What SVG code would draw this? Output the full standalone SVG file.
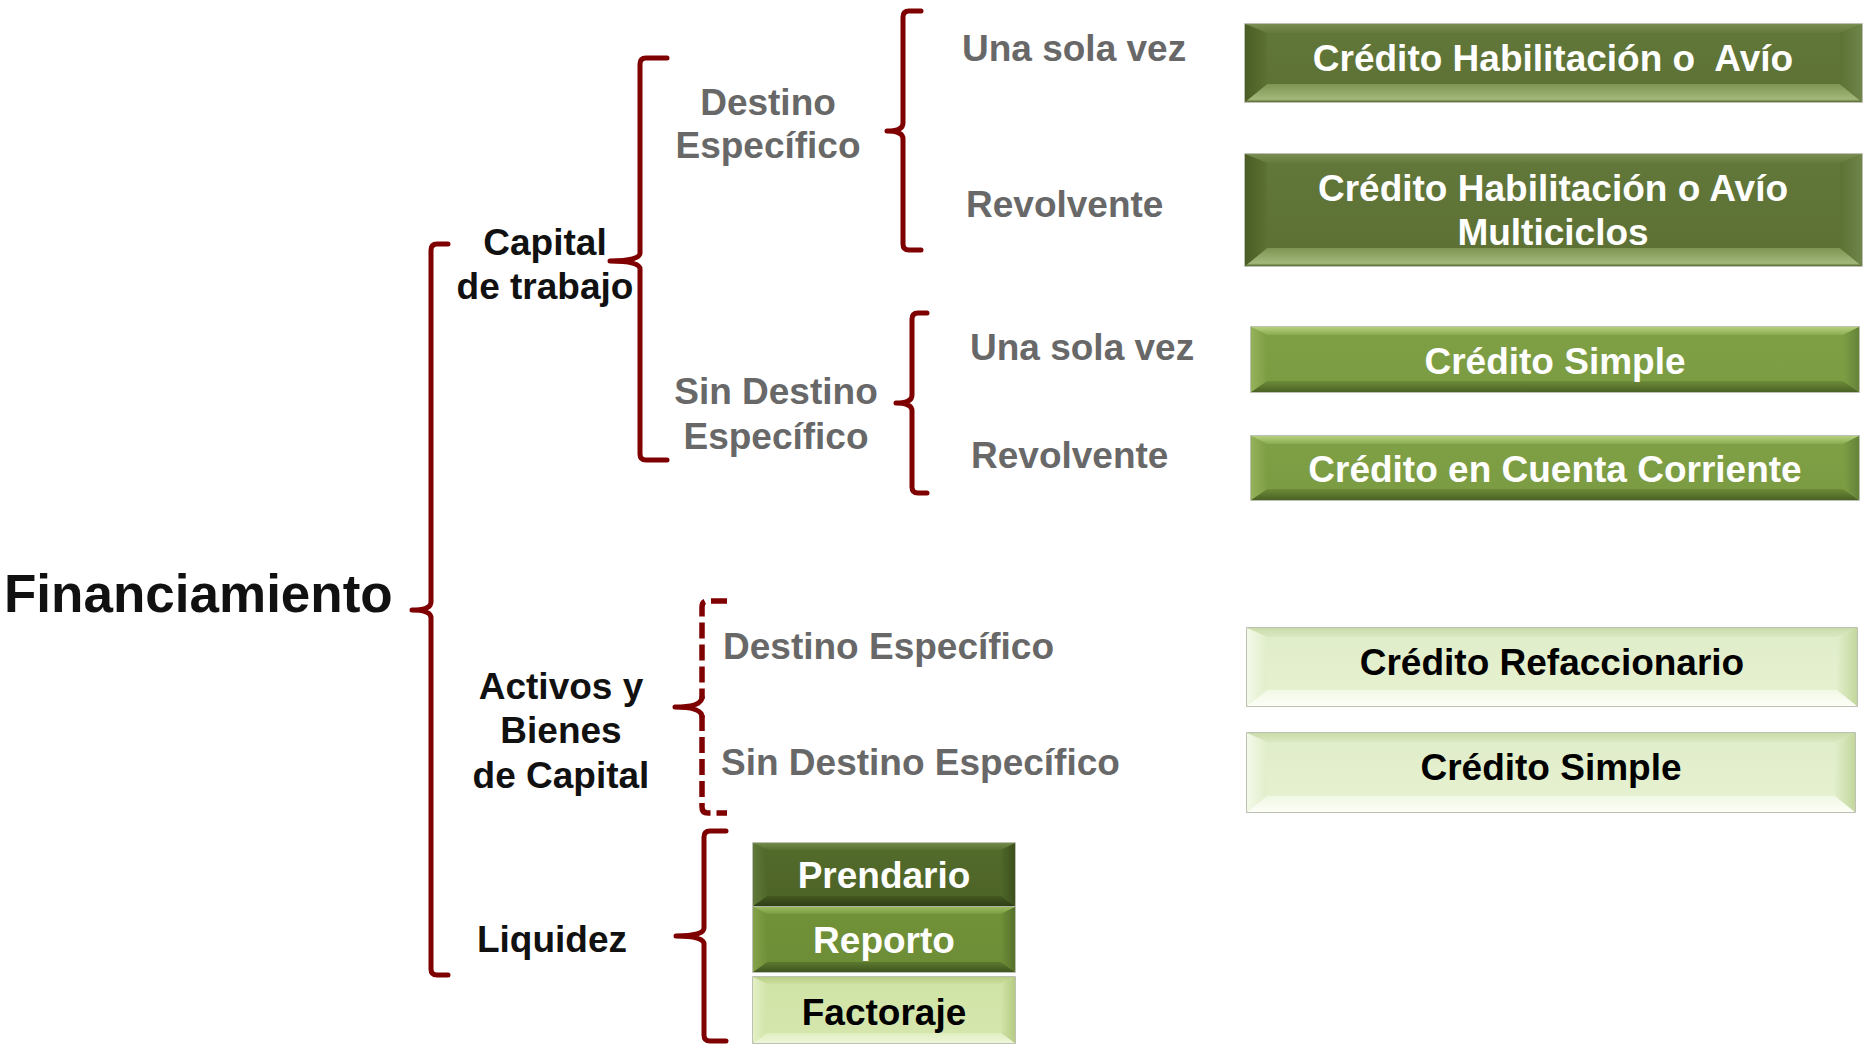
<svg xmlns="http://www.w3.org/2000/svg" width="1864" height="1045" viewBox="0 0 1864 1045">
<defs>
<linearGradient id="dkFace" x1="0" y1="0" x2="0" y2="1"><stop offset="0" stop-color="#62773a"/><stop offset="1" stop-color="#5b7032"/></linearGradient>
<linearGradient id="dkTop" x1="0" y1="0" x2="0" y2="1"><stop offset="0" stop-color="#7a8e52"/><stop offset="1" stop-color="#64793b"/></linearGradient>
<linearGradient id="dkBot" x1="0" y1="0" x2="0" y2="1"><stop offset="0" stop-color="#7d9452"/><stop offset="0.85" stop-color="#a3b87b"/><stop offset="1" stop-color="#56682e"/></linearGradient>
<linearGradient id="dkLeft" x1="0" y1="0" x2="1" y2="0"><stop offset="0" stop-color="#4b5d25"/><stop offset="1" stop-color="#5c7133"/></linearGradient>
<linearGradient id="dkRight" x1="0" y1="0" x2="1" y2="0"><stop offset="0" stop-color="#5c7133"/><stop offset="1" stop-color="#70854a"/></linearGradient>

<linearGradient id="mdFace" x1="0" y1="0" x2="0" y2="1"><stop offset="0" stop-color="#80a046"/><stop offset="1" stop-color="#7b9b42"/></linearGradient>
<linearGradient id="mdTop" x1="0" y1="0" x2="0" y2="1"><stop offset="0" stop-color="#b5d07e"/><stop offset="1" stop-color="#8bab50"/></linearGradient>
<linearGradient id="mdBot" x1="0" y1="0" x2="0" y2="1"><stop offset="0" stop-color="#6d8c38"/><stop offset="1" stop-color="#4a6124"/></linearGradient>
<linearGradient id="mdLeft" x1="0" y1="0" x2="1" y2="0"><stop offset="0" stop-color="#94b25a"/><stop offset="1" stop-color="#7e9e44"/></linearGradient>
<linearGradient id="mdRight" x1="0" y1="0" x2="1" y2="0"><stop offset="0" stop-color="#7e9e44"/><stop offset="1" stop-color="#65833a"/></linearGradient>

<linearGradient id="ltFace" x1="0" y1="0" x2="0" y2="1"><stop offset="0" stop-color="#e0edc9"/><stop offset="1" stop-color="#e6f1d1"/></linearGradient>
<linearGradient id="ltTop" x1="0" y1="0" x2="0" y2="1"><stop offset="0" stop-color="#cadcaa"/><stop offset="1" stop-color="#dae8c2"/></linearGradient>
<linearGradient id="ltBot" x1="0" y1="0" x2="0" y2="1"><stop offset="0" stop-color="#f1f8e4"/><stop offset="1" stop-color="#fcfef7"/></linearGradient>
<linearGradient id="ltLeft" x1="0" y1="0" x2="1" y2="0"><stop offset="0" stop-color="#f3f9e8"/><stop offset="1" stop-color="#e1eecb"/></linearGradient>
<linearGradient id="ltRight" x1="0" y1="0" x2="1" y2="0"><stop offset="0" stop-color="#e1eecb"/><stop offset="1" stop-color="#c3d79d"/></linearGradient>

<linearGradient id="prFace" x1="0" y1="0" x2="0" y2="1"><stop offset="0" stop-color="#536b2b"/><stop offset="1" stop-color="#4c6326"/></linearGradient>
<linearGradient id="prTop" x1="0" y1="0" x2="0" y2="1"><stop offset="0" stop-color="#72894a"/><stop offset="1" stop-color="#566e2e"/></linearGradient>
<linearGradient id="prBot" x1="0" y1="0" x2="0" y2="1"><stop offset="0" stop-color="#435820"/><stop offset="1" stop-color="#2f3f16"/></linearGradient>
<linearGradient id="prLeft" x1="0" y1="0" x2="1" y2="0"><stop offset="0" stop-color="#61793a"/><stop offset="1" stop-color="#4f6728"/></linearGradient>
<linearGradient id="prRight" x1="0" y1="0" x2="1" y2="0"><stop offset="0" stop-color="#4f6728"/><stop offset="1" stop-color="#3c501d"/></linearGradient>

<linearGradient id="rpFace" x1="0" y1="0" x2="0" y2="1"><stop offset="0" stop-color="#729239"/><stop offset="1" stop-color="#6c8c36"/></linearGradient>
<linearGradient id="rpTop" x1="0" y1="0" x2="0" y2="1"><stop offset="0" stop-color="#9abb5e"/><stop offset="1" stop-color="#7b9b41"/></linearGradient>
<linearGradient id="rpBot" x1="0" y1="0" x2="0" y2="1"><stop offset="0" stop-color="#5b792e"/><stop offset="1" stop-color="#3f5520"/></linearGradient>
<linearGradient id="rpLeft" x1="0" y1="0" x2="1" y2="0"><stop offset="0" stop-color="#84a34a"/><stop offset="1" stop-color="#6f8f38"/></linearGradient>
<linearGradient id="rpRight" x1="0" y1="0" x2="1" y2="0"><stop offset="0" stop-color="#6f8f38"/><stop offset="1" stop-color="#56722b"/></linearGradient>

<linearGradient id="fcFace" x1="0" y1="0" x2="0" y2="1"><stop offset="0" stop-color="#d0e3a5"/><stop offset="1" stop-color="#d6e7ae"/></linearGradient>
<linearGradient id="fcTop" x1="0" y1="0" x2="0" y2="1"><stop offset="0" stop-color="#b9cf85"/><stop offset="1" stop-color="#cde0a0"/></linearGradient>
<linearGradient id="fcBot" x1="0" y1="0" x2="0" y2="1"><stop offset="0" stop-color="#e0eec0"/><stop offset="1" stop-color="#eef6d8"/></linearGradient>
<linearGradient id="fcLeft" x1="0" y1="0" x2="1" y2="0"><stop offset="0" stop-color="#e3f0c6"/><stop offset="1" stop-color="#d2e4a8"/></linearGradient>
<linearGradient id="fcRight" x1="0" y1="0" x2="1" y2="0"><stop offset="0" stop-color="#d2e4a8"/><stop offset="1" stop-color="#b5cb83"/></linearGradient>
</defs>
<style>
text{font-family:"Liberation Sans",Arial,Helvetica,sans-serif;font-weight:bold;}
.root{font-size:53px;fill:#111111;}
.cat{font-size:37px;fill:#111111;text-anchor:middle;}
.sub{font-size:37px;fill:#686868;}
.subc{font-size:37px;fill:#686868;text-anchor:middle;}
.bt{font-size:37px;text-anchor:middle;}
.w{fill:#ffffff;}
.k{fill:#000000;}
.brace{fill:none;stroke:#7f0000;stroke-width:5;stroke-linecap:round;stroke-linejoin:round;}
.dash{stroke-dasharray:16 6;stroke-linecap:butt;stroke-width:5.5;}
.frame{stroke:#a8ad9c;stroke-width:1.5;}
</style>

<g id="connectors">
<path class="brace" d="M448,244 L437,244 Q431,244 431,250 L431,602 Q431,610 412,610 Q431,610 431,618 L431,969 Q431,975 437,975 L448,975"/>
<path class="brace" d="M667,58 L646,58 Q640,58 640,64 L640,253 Q640,261 610,261 Q640,261 640,269 L640,454 Q640,460 646,460 L667,460"/>
<path class="brace" d="M921,11 L909,11 Q903,11 903,17 L903,123 Q903,131 887,131 Q903,131 903,139 L903,244 Q903,250 909,250 L921,250"/>
<path class="brace" d="M927,313 L918,313 Q912,313 912,319 L912,395 Q912,403 896,403 Q912,403 912,411 L912,487 Q912,493 918,493 L927,493"/>
<path class="brace dash" d="M727,601 L708,601 Q702,601 702,607 L702,699"/>
<path class="brace dash" d="M702,715 L702,807 Q702,813 708,813 L727,813"/>
<path class="brace" d="M702,697 Q702,707 675,707 Q702,707 702,717"/>
<path class="brace" d="M726,831 L710,831 Q704,831 704,837 L704,928 Q704,936 676,936 Q704,936 704,944 L704,1035 Q704,1041 710,1041 L726,1041"/>
</g>

<g id="n-financiamiento"><text class="root" x="4" y="612">Financiamiento</text></g>
<g id="n-capital-trabajo"><text class="cat" x="545" y="255">Capital</text><text class="cat" x="545" y="299">de trabajo</text></g>
<g id="n-activos"><text class="cat" x="561" y="699">Activos y</text><text class="cat" x="561" y="743">Bienes</text><text class="cat" x="561" y="788">de Capital</text></g>
<g id="n-liquidez"><text class="cat" x="552" y="952">Liquidez</text></g>

<g id="n-destino-1"><text class="subc" x="768" y="115">Destino</text><text class="subc" x="768" y="158">Específico</text></g>
<g id="n-sindestino-1"><text class="subc" x="776" y="404">Sin Destino</text><text class="subc" x="776" y="449">Específico</text></g>
<g id="n-unasola-1"><text class="sub" x="962" y="61">Una sola vez</text></g>
<g id="n-revolvente-1"><text class="sub" x="966" y="217">Revolvente</text></g>
<g id="n-unasola-2"><text class="sub" x="970" y="360">Una sola vez</text></g>
<g id="n-revolvente-2"><text class="sub" x="971" y="468">Revolvente</text></g>
<g id="n-destino-2"><text class="sub" x="723" y="659">Destino Específico</text></g>
<g id="n-sindestino-2"><text class="sub" x="721" y="775">Sin Destino Específico</text></g>

<g id="n-avio">
<rect class="frame" x="1245" y="24" width="617" height="78" fill="url(#dkFace)"/>
<polygon points="1245,24 1862,24 1840,33 1267,33" fill="url(#dkTop)"/>
<polygon points="1245,102 1862,102 1840,84 1267,84" fill="url(#dkBot)"/>
<polygon points="1245,24 1267,33 1267,84 1245,102" fill="url(#dkLeft)"/>
<polygon points="1862,24 1840,33 1840,84 1862,102" fill="url(#dkRight)"/>
<text class="bt w" x="1553" y="71">Crédito Habilitación o&#160; Avío</text>
</g>
<g id="n-avio-multi">
<rect class="frame" x="1245" y="154" width="617" height="112" fill="url(#dkFace)"/>
<polygon points="1245,154 1862,154 1840,163 1267,163" fill="url(#dkTop)"/>
<polygon points="1245,266 1862,266 1840,248 1267,248" fill="url(#dkBot)"/>
<polygon points="1245,154 1267,163 1267,248 1245,266" fill="url(#dkLeft)"/>
<polygon points="1862,154 1840,163 1840,248 1862,266" fill="url(#dkRight)"/>
<text class="bt w" x="1553" y="201">Crédito Habilitación o Avío</text>
<text class="bt w" x="1553" y="245">Multiciclos</text>
</g>
<g id="n-simple-1">
<rect class="frame" x="1251" y="327" width="608" height="65" fill="url(#mdFace)"/>
<polygon points="1251,327 1859,327 1843,335 1267,335" fill="url(#mdTop)"/>
<polygon points="1251,392 1859,392 1843,381 1267,381" fill="url(#mdBot)"/>
<polygon points="1251,327 1267,335 1267,381 1251,392" fill="url(#mdLeft)"/>
<polygon points="1859,327 1843,335 1843,381 1859,392" fill="url(#mdRight)"/>
<text class="bt w" x="1555" y="374">Crédito Simple</text>
</g>
<g id="n-cuenta-corriente">
<rect class="frame" x="1251" y="436" width="608" height="64" fill="url(#mdFace)"/>
<polygon points="1251,436 1859,436 1843,444 1267,444" fill="url(#mdTop)"/>
<polygon points="1251,500 1859,500 1843,489 1267,489" fill="url(#mdBot)"/>
<polygon points="1251,436 1267,444 1267,489 1251,500" fill="url(#mdLeft)"/>
<polygon points="1859,436 1843,444 1843,489 1859,500" fill="url(#mdRight)"/>
<text class="bt w" x="1555" y="482">Crédito en Cuenta Corriente</text>
</g>
<g id="n-refaccionario">
<rect class="frame" x="1247" y="628" width="610" height="78" fill="url(#ltFace)"/>
<polygon points="1247,628 1857,628 1837,637 1267,637" fill="url(#ltTop)"/>
<polygon points="1247,706 1857,706 1837,690 1267,690" fill="url(#ltBot)"/>
<polygon points="1247,628 1267,637 1267,690 1247,706" fill="url(#ltLeft)"/>
<polygon points="1857,628 1837,637 1837,690 1857,706" fill="url(#ltRight)"/>
<text class="bt k" x="1552" y="675">Crédito Refaccionario</text>
</g>
<g id="n-simple-2">
<rect class="frame" x="1247" y="733" width="608" height="79" fill="url(#ltFace)"/>
<polygon points="1247,733 1855,733 1835,742 1267,742" fill="url(#ltTop)"/>
<polygon points="1247,812 1855,812 1835,796 1267,796" fill="url(#ltBot)"/>
<polygon points="1247,733 1267,742 1267,796 1247,812" fill="url(#ltLeft)"/>
<polygon points="1855,733 1835,742 1835,796 1855,812" fill="url(#ltRight)"/>
<text class="bt k" x="1551" y="780">Crédito Simple</text>
</g>
<g id="n-prendario">
<rect class="frame" x="753" y="843" width="262" height="63" fill="url(#prFace)"/>
<polygon points="753,843 1015,843 1001,850 767,850" fill="url(#prTop)"/>
<polygon points="753,906 1015,906 1001,896 767,896" fill="url(#prBot)"/>
<polygon points="753,843 767,850 767,896 753,906" fill="url(#prLeft)"/>
<polygon points="1015,843 1001,850 1001,896 1015,906" fill="url(#prRight)"/>
<text class="bt w" x="884" y="888">Prendario</text>
</g>
<g id="n-reporto">
<rect class="frame" x="753" y="907" width="262" height="65" fill="url(#rpFace)"/>
<polygon points="753,907 1015,907 1001,914 767,914" fill="url(#rpTop)"/>
<polygon points="753,972 1015,972 1001,962 767,962" fill="url(#rpBot)"/>
<polygon points="753,907 767,914 767,962 753,972" fill="url(#rpLeft)"/>
<polygon points="1015,907 1001,914 1001,962 1015,972" fill="url(#rpRight)"/>
<text class="bt w" x="884" y="953">Reporto</text>
</g>
<g id="n-factoraje">
<rect class="frame" x="753" y="977" width="262" height="66" fill="url(#fcFace)"/>
<polygon points="753,977 1015,977 1001,984 767,984" fill="url(#fcTop)"/>
<polygon points="753,1043 1015,1043 1001,1033 767,1033" fill="url(#fcBot)"/>
<polygon points="753,977 767,984 767,1033 753,1043" fill="url(#fcLeft)"/>
<polygon points="1015,977 1001,984 1001,1033 1015,1043" fill="url(#fcRight)"/>
<text class="bt k" x="884" y="1025">Factoraje</text>
</g>
</svg>
